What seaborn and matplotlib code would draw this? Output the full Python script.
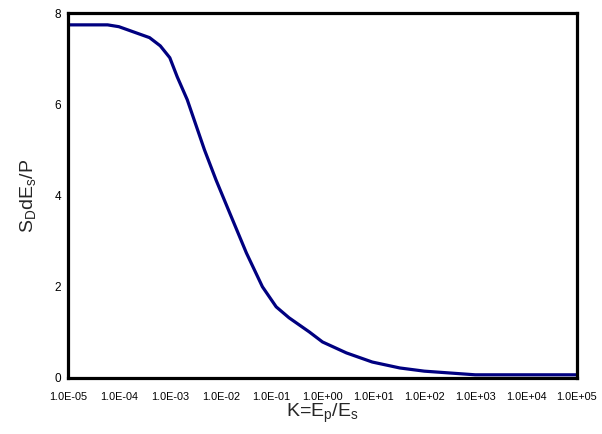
import matplotlib
matplotlib.use("Agg")
import matplotlib.pyplot as plt
import seaborn as sns
import numpy as np
import pandas as pd
from matplotlib.ticker import FixedLocator, FixedFormatter, NullLocator

# Data
k_values = [1e-5, 6e-5, 1e-4, 4e-4, 6.5e-4, 1e-3, 1.4e-3, 2.2e-3, 4.8e-3, 8.1e-3,
            1.5e-2, 3.2e-2, 6.6e-2, 1.23e-1, 2.2e-1, 5.5e-1, 1.0, 2.95, 9.5,
            33.0, 100.0, 1000.0, 1e5]
sd_values = [7.74, 7.74, 7.70, 7.46, 7.28, 7.02, 6.60, 6.10, 5.00, 4.34,
             3.62, 2.74, 2.00, 1.56, 1.32, 1.01, 0.79, 0.55, 0.35,
             0.22, 0.15, 0.07, 0.07]
x_ticks = [1e-5, 1e-4, 1e-3, 1e-2, 1e-1, 1e0, 1e1, 1e2, 1e3, 1e4, 1e5]
x_tick_labels = ["1.0E-05", "1.0E-04", "1.0E-03", "1.0E-02", "1.0E-01",
                 "1.0E+00", "1.0E+01", "1.0E+02", "1.0E+03", "1.0E+04", "1.0E+05"]
y_ticks = [0, 2, 4, 6, 8]

sns.set_style("white")
plt.rcParams["font.family"] = ["Liberation Sans", "DejaVu Sans"]
plt.rcParams["mathtext.default"] = "regular"

df = pd.DataFrame({"K": k_values, "S": sd_values})

fig = plt.figure(figsize=(6.02, 4.34), dpi=100)
ax = fig.add_axes([68/602, 1 - 378/434, (577 - 68)/602, (378 - 13)/434])

sns.lineplot(data=df, x="K", y="S", ax=ax, color="#000080", linewidth=2.3)

ax.set_xscale("log")
ax.set_xlim(1e-5, 1e5)
ax.set_ylim(0, 8)
ax.xaxis.set_major_locator(FixedLocator(x_ticks))
ax.xaxis.set_major_formatter(FixedFormatter(x_tick_labels))
ax.xaxis.set_minor_locator(NullLocator())
ax.set_yticks(y_ticks)
ax.set_yticklabels([str(v) for v in y_ticks])

for s in ax.spines.values():
    s.set_visible(True)
    s.set_color("black")
    s.set_linewidth(2.3)

ax.tick_params(axis="x", direction="in", length=3, width=2, labelsize=7.8, pad=10, colors="black")
ax.tick_params(axis="y", direction="in", length=3, width=1.2, labelsize=8.5, pad=5, colors="black")

ax.set_xlabel(r"K=E$_p$/E$_s$", fontsize=14, labelpad=0)
ax.set_ylabel(r"S$_D$dE$_s$/P", fontsize=14, labelpad=12)

fig.savefig("out.png", dpi=100, facecolor="white")
